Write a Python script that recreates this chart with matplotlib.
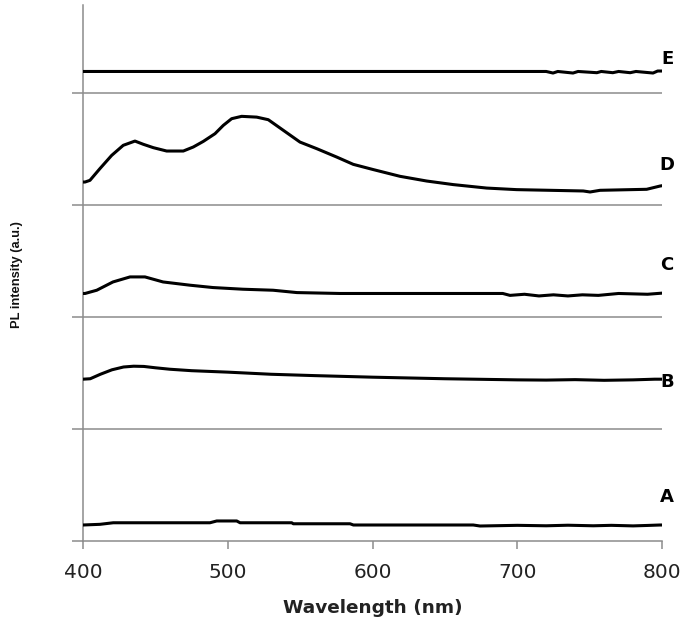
import matplotlib
matplotlib.use("Agg")
import matplotlib.pyplot as plt

# Wavelength (nm) / intensity (stacked, a.u.)
wl_A = [400, 411.7, 420.9, 487.7, 492.4, 506.2, 508.5, 544.2, 545.3, 584.5, 586.8, 669.6, 674.3,
        700, 720, 735, 752.5, 765, 780, 790, 798.6, 800]
A = [0.143, 0.149, 0.163, 0.163, 0.179, 0.179, 0.163, 0.163, 0.154, 0.154, 0.143, 0.143, 0.134,
     0.140, 0.136, 0.141, 0.136, 0.140, 0.135, 0.139, 0.143, 0.143]

wl_B = [400, 405, 412, 420, 428, 435, 442, 450, 460, 475, 500, 530, 560, 600, 650, 700, 720, 740, 760, 780, 795, 800]
B = [1.446, 1.450, 1.490, 1.530, 1.555, 1.562, 1.560, 1.548, 1.535, 1.522, 1.509, 1.490, 1.478, 1.464, 1.450, 1.440,
     1.438, 1.442, 1.436, 1.440, 1.446, 1.446]

wl_C = [400, 401.4, 409.5, 420.7, 432.5, 442.8, 455.3, 473.9, 489.8, 510.5, 531.3, 547.8, 577.5, 605.2,
        690, 695, 705, 715, 725, 735, 745, 756, 770, 790, 800]
C = [2.212, 2.212, 2.241, 2.315, 2.36, 2.36, 2.315, 2.286, 2.265, 2.25, 2.241, 2.22, 2.212, 2.212,
     2.212, 2.195, 2.205, 2.19, 2.2, 2.19, 2.2, 2.195, 2.212, 2.205, 2.215]

wl_D = [400, 401.4, 404.8, 411.7, 419.8, 427.8, 435.9, 441.7, 448.6, 457.8, 469.3, 476.2, 483.1, 491.2,
        496.9, 502.7, 509.6, 520.0, 528.0, 538.4, 549.9, 561.5, 575.3, 586.7, 600.6, 619.0, 637.4,
        655.8, 678.9, 699.6, 745.6, 750.3, 757.2, 789.4, 798.6, 800]
D = [3.208, 3.208, 3.223, 3.328, 3.446, 3.536, 3.574, 3.545, 3.515, 3.485, 3.485, 3.521, 3.571, 3.640,
     3.714, 3.774, 3.795, 3.788, 3.765, 3.670, 3.565, 3.506, 3.431, 3.366, 3.319, 3.259, 3.217,
     3.185, 3.154, 3.140, 3.128, 3.119, 3.134, 3.143, 3.172, 3.175]

wl_E = [400, 720, 724.7, 728, 738.5, 742, 755, 758, 766, 770, 778, 782, 793.8, 797, 800]
E = [4.196, 4.196, 4.182, 4.196, 4.182, 4.196, 4.185, 4.196, 4.185, 4.196, 4.185, 4.196, 4.182, 4.2, 4.2]

labels = ["A", "B", "C", "D", "E"]
label_y = [0.396, 1.42, 2.464, 3.357, 4.31]
xticks = [400, 500, 600, 700, 800]

fig = plt.figure(figsize=(6.85, 6.21), dpi=100)
ax = fig.add_axes([83/685, 1 - 541/621, (662-83)/685, (541-5)/621])

grid_c = "#8c8c8c"
for yv in [1, 2, 3, 4]:
    ax.axhline(yv, color=grid_c, lw=1.1, zorder=1)

for wl, s in [(wl_A, A), (wl_B, B), (wl_C, C), (wl_D, D), (wl_E, E)]:
    ax.plot(wl, s, color="black", lw=2.2, zorder=3, solid_joinstyle="round")

for lab, yv in zip(labels, label_y):
    ax.text(803.5, yv, lab, ha="center", va="center", fontsize=13, fontweight="bold",
            family="DejaVu Sans", clip_on=False)

ax.set_xlim(400, 800)
ax.set_ylim(0, 4.79)
ax.set_xticks(xticks)
ax.set_xticklabels([str(t) for t in xticks], fontsize=14.5, color="#222222")
ax.set_yticks([0, 1, 2, 3, 4])
ax.set_yticklabels([])
ax.tick_params(axis="x", direction="out", length=6, width=1.1, color=grid_c, pad=10)
ax.tick_params(axis="y", direction="out", length=8, width=1.1, color=grid_c)

for side in ["top", "right"]:
    ax.spines[side].set_visible(False)
for side in ["left", "bottom"]:
    ax.spines[side].set_color(grid_c)
    ax.spines[side].set_linewidth(1.1)

fig.text(373/685, 1 - 608/621, "Wavelength (nm)", ha="center", va="center",
         fontsize=13.3, fontweight="bold", color="#222222")
fig.text(17/685, 1 - 275/621, "PL intensity (a.u.)", ha="center", va="center", rotation=90,
         fontsize=9.3, fontweight="bold", family=["Liberation Sans Narrow", "Liberation Sans", "DejaVu Sans"],
         color="#111111")

fig.savefig("out.png", dpi=100)
